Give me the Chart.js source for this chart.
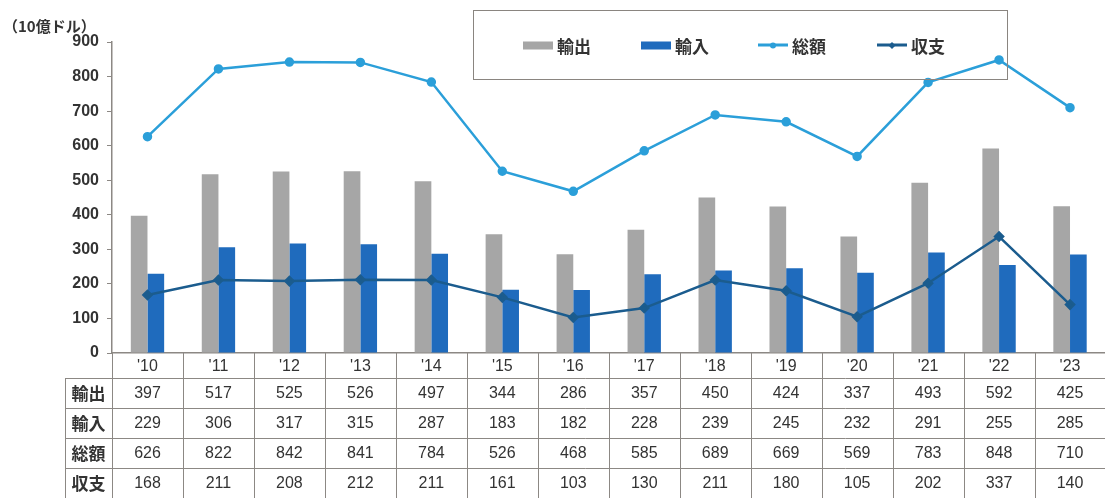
<!DOCTYPE html>
<html lang="ja">
<head>
<meta charset="utf-8">
<title>輸出・輸入・総額・収支</title>
<script src="https://cdn.jsdelivr.net/npm/chart.js@4/dist/chart.umd.min.js"></script>
<style>
  html, body { margin: 0; padding: 0; background: #fff; }
  body { width: 1105px; height: 498px; overflow: hidden; position: relative; }
  #wrap { position: absolute; left: 0; top: 0; width: 1112px; height: 498px; }
  .legend-box {
    position: absolute; left: 473px; top: 10px; width: 535px; height: 70px;
    border: 1.5px solid #8a8580; background: transparent; box-sizing: border-box;
  }
  .legend-item {
    position: absolute; top: 45px; transform: translateY(-50%);
    display: flex; align-items: center;
    font: bold 17px "Noto Sans CJK JP", sans-serif; color: #333;
  }
  .sw { width: 30px; margin-right: 4px; position: relative; }
  .sw.bar { height: 8px; }
  .sw.line { height: 2.5px; }
  .sw .mk { position: absolute; left: 50%; top: 50%; transform: translate(-50%, -50%); }
</style>
</head>
<body>
<div id="wrap"><canvas id="chart" width="1112" height="498"></canvas></div>
<div class="legend-box"></div>
<div id="legend"></div>

<script>
const years = ["'10", "'11", "'12", "'13", "'14", "'15", "'16", "'17", "'18", "'19", "'20", "'21", "'22", "'23"];
const exportsData = [397, 517, 525, 526, 497, 344, 286, 357, 450, 424, 337, 493, 592, 425];
const importsData = [229, 306, 317, 315, 287, 183, 182, 228, 239, 245, 232, 291, 255, 285];
const totalData   = [626, 822, 842, 841, 784, 526, 468, 585, 689, 669, 569, 783, 848, 710];
const balanceData = [168, 211, 208, 212, 211, 161, 103, 130, 211, 180, 105, 202, 337, 140];
const yTicks = [0, 100, 200, 300, 400, 500, 600, 700, 800, 900];

const colors = {
  exports: '#a6a6a6',
  imports: '#1f6bbd',
  total: '#2b9fd9',
  balance: '#1b5c8e',
  grid: '#8c8884',
  text: '#333333'
};

// 凡例（HTML）
const legendItems = [
  { label: '輸出', type: 'bar', color: colors.exports, x: 523 },
  { label: '輸入', type: 'bar', color: colors.imports, x: 641 },
  { label: '総額', type: 'line', color: colors.total, x: 758, marker: 'circle' },
  { label: '収支', type: 'line', color: colors.balance, x: 877, marker: 'diamond' }
];
const legendEl = document.getElementById('legend');
legendItems.forEach(it => {
  const item = document.createElement('div');
  item.className = 'legend-item';
  item.style.left = it.x + 'px';
  let mk = '';
  if (it.marker === 'circle') {
    mk = `<span class="mk" style="width:6px;height:6px;border-radius:50%;background:${it.color}"></span>`;
  } else if (it.marker === 'diamond') {
    mk = `<span class="mk" style="width:5px;height:5px;background:${it.color};transform:translate(-50%,-50%) rotate(45deg)"></span>`;
  }
  item.innerHTML = `<span class="sw ${it.type}" style="background:${it.color}">${mk}</span><span>${it.label}</span>`;
  legendEl.appendChild(item);
});

// 下部のデータ表
const tableRows = [
  { label: '輸出', values: exportsData },
  { label: '輸入', values: importsData },
  { label: '総額', values: totalData },
  { label: '収支', values: balanceData }
];

const tablePlugin = {
  id: 'dataTable',
  afterDraw(chart) {
    const { ctx, chartArea, scales } = chart;
    const xs = scales.x;
    const left = chartArea.left, right = chartArea.right;
    const top = chartArea.bottom;
    const headH = 25, rowH = 30;
    const labelLeft = 65;
    const colW = (right - left) / years.length;
    const bottom = top + headH + rowH * tableRows.length;

    ctx.save();
    ctx.strokeStyle = colors.grid;
    ctx.lineWidth = 1;

    // 横線
    for (let r = 0; r <= tableRows.length; r++) {
      const y = Math.round(top + headH + r * rowH) + 0.5;
      ctx.beginPath();
      ctx.moveTo(labelLeft, y);
      ctx.lineTo(right, y);
      ctx.stroke();
    }
    // 縦線
    for (let i = 0; i <= years.length; i++) {
      const x = Math.round(left + i * colW) + 0.5;
      ctx.beginPath();
      ctx.moveTo(x, top);
      ctx.lineTo(x, bottom);
      ctx.stroke();
    }
    ctx.beginPath();
    ctx.moveTo(labelLeft + 0.5, top + headH);
    ctx.lineTo(labelLeft + 0.5, bottom);
    ctx.stroke();

    ctx.fillStyle = colors.text;
    ctx.textAlign = 'center';
    ctx.textBaseline = 'middle';

    // 年の見出し
    ctx.font = '16px "Liberation Sans", Arial, sans-serif';
    years.forEach((yr, i) => {
      ctx.fillText(yr, xs.getPixelForValue(i), top + headH / 2 + 1);
    });

    tableRows.forEach((row, r) => {
      const cy = top + headH + r * rowH + rowH / 2 + 1;
      ctx.font = 'bold 17px "Noto Sans CJK JP", sans-serif';
      ctx.fillText(row.label, (labelLeft + left) / 2, cy);
      ctx.font = '16px "Liberation Sans", Arial, sans-serif';
      row.values.forEach((v, i) => {
        ctx.fillText(String(v), xs.getPixelForValue(i), cy);
      });
    });

    // 単位
    ctx.textAlign = 'left';
    ctx.font = 'bold 15px "Noto Sans CJK JP", sans-serif';
    ctx.fillText('（10億ドル）', 3, 26);
    ctx.restore();
  }
};

new Chart(document.getElementById('chart'), {
  type: 'bar',
  data: {
    labels: years,
    datasets: [
      {
        label: '総額',
        type: 'line',
        data: totalData,
        borderColor: colors.total,
        backgroundColor: colors.total,
        borderWidth: 2.5,
        pointRadius: 3.5,
        pointStyle: 'circle',
        tension: 0,
        order: 1
      },
      {
        label: '収支',
        type: 'line',
        data: balanceData,
        borderColor: colors.balance,
        backgroundColor: colors.balance,
        borderWidth: 2.5,
        pointRadius: 4,
        pointStyle: 'rectRot',
        tension: 0,
        order: 1
      },
      {
        label: '輸出',
        data: exportsData,
        backgroundColor: colors.exports,
        categoryPercentage: 0.47,
        barPercentage: 1.0,
        order: 2
      },
      {
        label: '輸入',
        data: importsData,
        backgroundColor: colors.imports,
        categoryPercentage: 0.47,
        barPercentage: 1.0,
        order: 2
      }
    ]
  },
  options: {
    responsive: false,
    animation: false,
    layout: { padding: { top: 42, bottom: 145, left: 0, right: 0 } },
    plugins: {
      legend: { display: false },
      tooltip: { enabled: false }
    },
    scales: {
      x: {
        ticks: { display: false },
        grid: { display: false },
        border: { display: true, color: colors.grid, width: 1.5 },
        afterFit(scale) { scale.height = 0; }
      },
      y: {
        min: 0,
        max: 900,
        afterBuildTicks(scale) { scale.ticks = yTicks.map(v => ({ value: v })); },
        ticks: {
          color: colors.text,
          padding: 8,
          font: { family: '"Liberation Sans", Arial, sans-serif', size: 16, weight: 'bold' }
        },
        grid: { drawOnChartArea: false, drawTicks: true, tickLength: 5, color: colors.grid },
        border: { display: true, color: colors.grid, width: 1.5 },
        afterFit(scale) { scale.width = 112; }
      }
    }
  },
  plugins: [tablePlugin]
});
</script>
</body>
</html>
